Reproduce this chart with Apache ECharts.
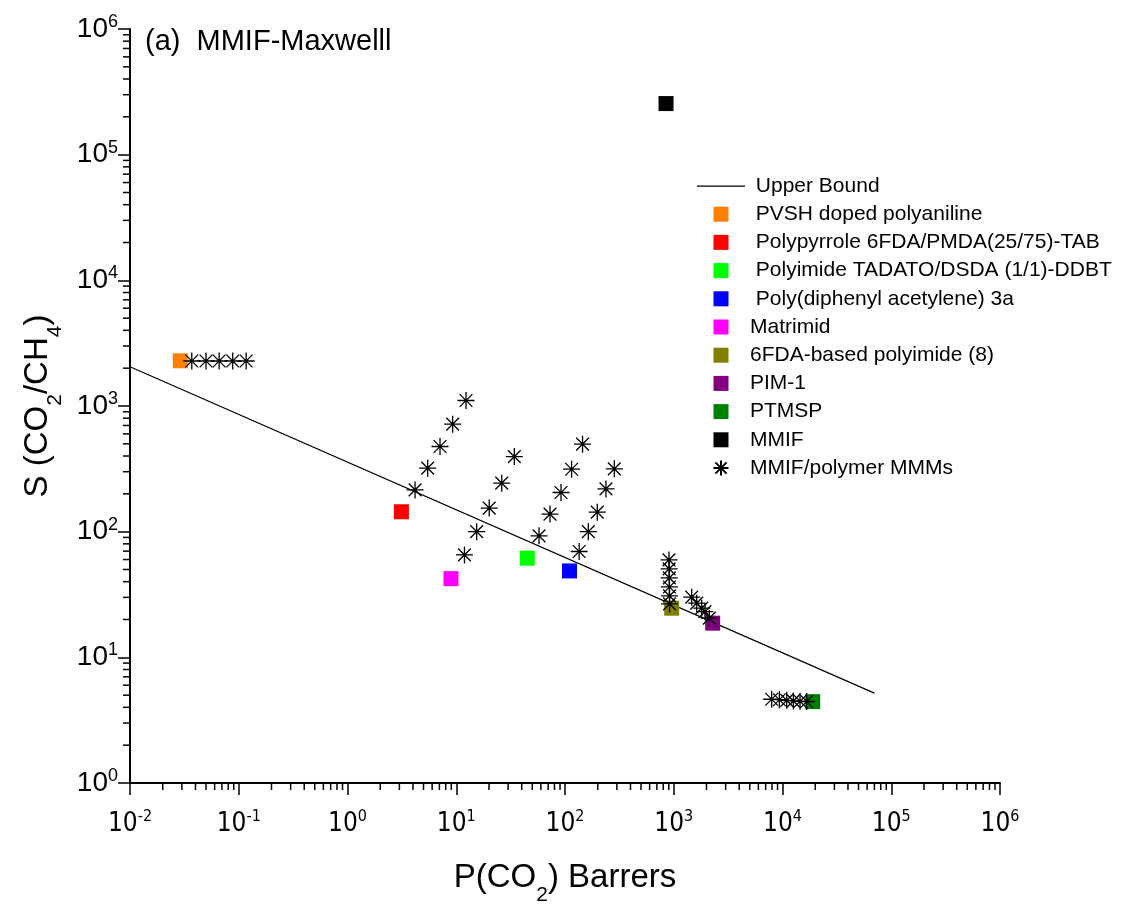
<!DOCTYPE html>
<html>
<head>
<meta charset="utf-8">
<script src="https://cdn.jsdelivr.net/npm/echarts/dist/echarts.min.js"></script>
<style>
html,body{margin:0;padding:0;background:#fff;}
#chart{width:1121px;height:911px;}
</style>
</head>
<body>
<div id="chart"></div>
<script>
// ---------- data ----------
const upperBoundP = [0.01, 70000];
const upperBoundS = [2051, 5.19];

const polymerNames = [
  'PVSH doped polyaniline',
  'Polypyrrole 6FDA/PMDA(25/75)-TAB',
  'Polyimide TADATO/DSDA (1/1)-DDBT',
  'Poly(diphenyl acetylene) 3a',
  'Matrimid',
  '6FDA-based polyimide (8)',
  'PIM-1',
  'PTMSP',
  'MMIF'
];
const polymerP = [0.029, 3.13, 45, 110, 8.95, 957, 2280, 18960, 849];
const polymerS = [2290, 144, 61.5, 48.7, 42.3, 24.6, 18.7, 4.44, 255000];
const polymerColors = ['#FF8000', '#FF0000', '#00FF00', '#0000FF', '#FF00FF', '#808000', '#800080', '#008000', '#000000'];

const mmmP = [
  0.037, 0.050, 0.066, 0.088, 0.117,
  4.18, 5.46, 7.09, 9.27, 12.3,
  11.9, 15.4, 20.1, 26.2, 34.2,
  57.7, 72.8, 91.9, 115, 145,
  135, 164, 198, 238, 284,
  904, 907, 910, 912, 914, 915,
  1462, 1626, 1807, 1937, 2124,
  7950, 9350, 10940, 12590, 14490, 16700
];
const mmmS = [
  2280, 2280, 2280, 2280, 2280,
  215, 320, 476, 717, 1106,
  65.3, 100, 154, 243, 396,
  92.6, 138, 205, 314, 497,
  69.5, 100, 143, 219, 316,
  59.6, 50.6, 42.9, 36.3, 30.8, 26.6,
  30.1, 27, 24.6, 23.1, 20.5,
  4.64, 4.6, 4.55, 4.5, 4.47, 4.45
];

const xDecades = [-2, -1, 0, 1, 2, 3, 4, 5];
const yDecades = [0, 1, 2, 3, 4, 5];
const minorMultipliers = [2, 3, 4, 5, 6, 7, 8, 9];

// ---------- build ----------
const SQ = 'path://M0,0L10,0L10,10L0,10Z';
const STAR = 'path://M0,-10L0,10M-10,0L10,0M-7.5,-7.5L7.5,7.5M-7.5,7.5L7.5,-7.5';
const LINE_ICON = 'path://M0,0L96,0L96,2.5L0,2.5Z';

const xMinor = [];
xDecades.forEach(e => minorMultipliers.forEach(k => xMinor.push([k * Math.pow(10, e), 1])));
const yMinor = [];
yDecades.forEach(e => minorMultipliers.forEach(k => yMinor.push([0.01, k * Math.pow(10, e)])));

function powLabel(v) {
  const e = Math.round(Math.log10(v));
  return '{b|10}{s|' + e + '}';
}

const series = [];
series.push({
  name: 'Upper Bound', type: 'line', symbol: 'none', showSymbol: false,
  data: upperBoundP.map((p, i) => [p, upperBoundS[i]]),
  lineStyle: {color: '#000', width: 1.2}, itemStyle: {color: '#000'},
  z: 2, silent: true
});
polymerNames.forEach((n, i) => {
  series.push({
    name: n, type: 'scatter', symbol: 'rect', symbolSize: 15,
    data: [[polymerP[i], polymerS[i]]],
    itemStyle: {color: polymerColors[i], opacity: 1},
    z: 3
  });
});
series.push({
  name: 'MMIF/polymer MMMs', type: 'scatter', symbol: STAR, symbolSize: 17,
  data: mmmP.map((p, i) => [p, mmmS[i]]),
  itemStyle: {color: '#000', borderColor: '#000', borderWidth: 1.3, opacity: 1},
  z: 4
});
series.push({
  type: 'custom', silent: true, clip: false, z: 5,
  data: xMinor,
  renderItem: (params, api) => {
    const p = api.coord([api.value(0), api.value(1)]);
    return {type: 'line', shape: {x1: p[0], y1: p[1], x2: p[0], y2: p[1] + 7}, style: {stroke: '#000', lineWidth: 1.5}};
  }
});
series.push({
  type: 'custom', silent: true, clip: false, z: 5,
  data: yMinor,
  renderItem: (params, api) => {
    const p = api.coord([api.value(0), api.value(1)]);
    return {type: 'line', shape: {x1: p[0] - 7, y1: p[1], x2: p[0], y2: p[1]}, style: {stroke: '#000', lineWidth: 1.5}};
  }
});

const legendData = [{name: 'Upper Bound', icon: LINE_ICON, itemStyle: {color: '#000', borderWidth: 0}}]
  .concat(polymerNames.map(n => ({name: n, icon: SQ})))
  .concat([{name: 'MMIF/polymer MMMs', icon: STAR}]);
const indented = ['Upper Bound', polymerNames[0], polymerNames[1], polymerNames[2], polymerNames[3]];

const chart = echarts.init(document.getElementById('chart'), null, {renderer: 'canvas'});
chart.setOption({
  animation: false,
  backgroundColor: '#fff',
  title: {
    text: '(a)  MMIF-Maxwelll', left: 145, top: 27, padding: 0,
    textStyle: {fontFamily: "'Liberation Sans', Arial, sans-serif", fontSize: 29, fontWeight: 'normal', color: '#000'}
  },
  grid: {left: 130, right: 121, top: 29, bottom: 128, containLabel: false},
  legend: {
    orient: 'vertical', left: 697, top: 175, padding: 0,
    itemWidth: 48, itemHeight: 15, itemGap: 6.2,
    data: legendData,
    formatter: n => (indented.indexOf(n) >= 0 ? ' ' + n : n),
    textStyle: {fontFamily: "'Liberation Sans', Arial, sans-serif", fontSize: 21, lineHeight: 22, color: '#000'}
  },
  xAxis: {
    type: 'log', logBase: 10, min: 0.01, max: 1000000, splitNumber: 8,
    name: '{t|P(CO}{sub|2}{t|) Barrers}', nameLocation: 'middle', nameGap: 75,
    nameTextStyle: {
      rich: {
        t: {fontFamily: "'Liberation Sans', Arial, sans-serif", fontSize: 33, lineHeight: 40, color: '#000'},
        sub: {fontFamily: "'Liberation Sans', Arial, sans-serif", fontSize: 21, lineHeight: 21, verticalAlign: 'bottom', padding: [0, 0, -8, 0], color: '#000'}
      }
    },
    axisLine: {show: true, lineStyle: {color: '#000', width: 2}},
    axisTick: {show: true, length: 12, lineStyle: {color: '#000', width: 1.5}},
    minorTick: {show: false},
    splitLine: {show: false},
    axisLabel: {
      margin: 26, formatter: powLabel, showMinLabel: true, showMaxLabel: true,
      rich: {
        b: {fontFamily: "'Liberation Sans Narrow', 'DejaVu Sans Condensed', 'Liberation Sans', sans-serif", fontSize: 26, lineHeight: 30, color: '#000'},
        s: {fontFamily: "'Liberation Sans Narrow', 'DejaVu Sans Condensed', 'Liberation Sans', sans-serif", fontSize: 16, lineHeight: 16, verticalAlign: 'top', color: '#000'}
      }
    }
  },
  yAxis: {
    type: 'log', logBase: 10, min: 1, max: 1000000, splitNumber: 6,
    name: '{t|S (CO}{sub|2}{t|/CH}{sub|4}{t|)}', nameLocation: 'middle', nameGap: 70, nameRotate: 90,
    nameTextStyle: {
      rich: {
        t: {fontFamily: "'Liberation Sans', Arial, sans-serif", fontSize: 33, lineHeight: 40, color: '#000'},
        sub: {fontFamily: "'Liberation Sans', Arial, sans-serif", fontSize: 21, lineHeight: 21, verticalAlign: 'bottom', padding: [0, 0, -8, 0], color: '#000'}
      }
    },
    axisLine: {show: true, lineStyle: {color: '#000', width: 2}},
    axisTick: {show: true, length: 12, lineStyle: {color: '#000', width: 1.5}},
    minorTick: {show: false},
    splitLine: {show: false},
    axisLabel: {
      margin: 12, formatter: powLabel, showMinLabel: true, showMaxLabel: true,
      rich: {
        b: {fontFamily: "'Liberation Sans', Arial, sans-serif", fontSize: 28, lineHeight: 32, color: '#000'},
        s: {fontFamily: "'Liberation Sans', Arial, sans-serif", fontSize: 18, lineHeight: 18, verticalAlign: 'top', color: '#000'}
      }
    }
  },
  series: series
});
</script>
</body>
</html>
